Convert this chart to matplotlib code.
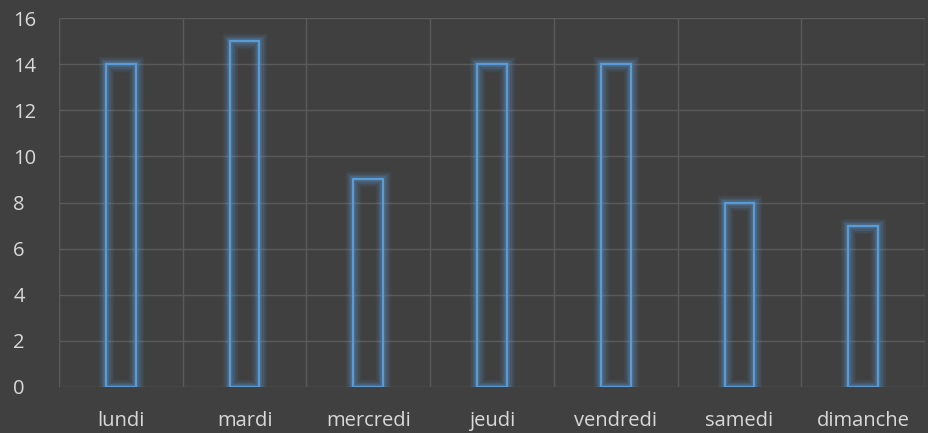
import matplotlib
matplotlib.use("Agg")
import matplotlib.pyplot as plt
import numpy as np

days = ["lundi", "mardi", "mercredi", "jeudi", "vendredi", "samedi", "dimanche"]
counts = [14, 15, 9, 14, 14, 8, 7]
y_ticks = [0, 2, 4, 6, 8, 10, 12, 14, 16]

bg = "#404040"
grid_col = "#5a5a5a"
text_col = "#d9d9d9"
bar_col = "#5b9bd5"

plt.rcParams["font.family"] = ["Open Sans", "DejaVu Sans"]

fig = plt.figure(figsize=(9.29, 4.33), dpi=100, facecolor=bg)
ax = fig.add_axes([59 / 929, 46 / 433, 866 / 929, 369 / 433], facecolor=bg)

x = np.arange(len(days))
width = 0.24

# glow layers
for lw, a in [(11, 0.07), (9, 0.1), (6.5, 0.14), (4, 0.22)]:
    ax.bar(x, counts, width=width, fill=False, edgecolor=bar_col, linewidth=lw, alpha=a, zorder=3)
ax.bar(x, counts, width=width, fill=False, edgecolor=bar_col, linewidth=1.6, zorder=4)

ax.set_xlim(-0.5, len(days) - 0.5)
ax.set_ylim(0, 16)
ax.set_yticks(y_ticks)
ax.set_xticks(x)
ax.set_xticklabels(days)

# grid: horizontal every 2, vertical at category boundaries
for yv in y_ticks:
    ax.axhline(yv, color=grid_col, linewidth=1, zorder=1)
for xv in np.arange(-0.5, len(days), 1.0):
    ax.axvline(xv, color=grid_col, linewidth=1, zorder=1)

for s in ax.spines.values():
    s.set_visible(False)
ax.tick_params(length=0, colors=text_col, labelsize=14.5)
ax.tick_params(axis="y", pad=33)
ax.tick_params(axis="x", pad=17)
for lab in ax.get_yticklabels():
    lab.set_horizontalalignment("left")

fig.savefig("out.png", dpi=100, facecolor=bg)
